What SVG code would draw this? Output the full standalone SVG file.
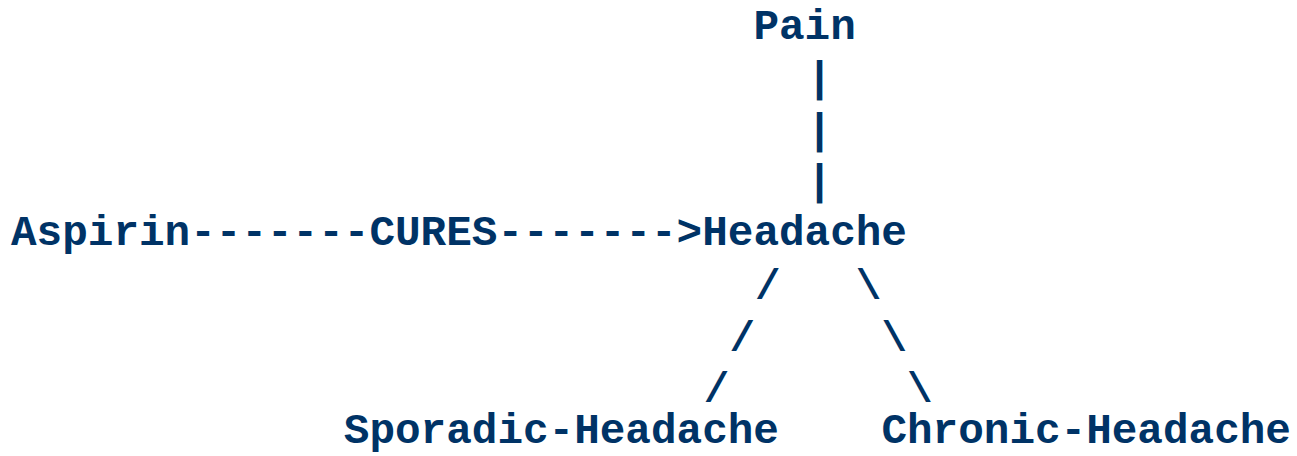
<svg xmlns="http://www.w3.org/2000/svg" width="1297" height="456" viewBox="0 0 1297 456">
<style>
text{font-family:"Liberation Mono","Courier New",monospace;font-weight:bold;font-size:42.67px;fill:#003366;white-space:pre}
</style>
<rect width="1297" height="456" fill="#ffffff"/>
<g id="connectors">
<text x="819.5" y="91" text-anchor="middle">|</text>
<text x="819.5" y="142.5" text-anchor="middle">|</text>
<text x="819.5" y="194" text-anchor="middle">|</text>
<text x="190.2" y="244.6" xml:space="preserve">-------</text>
<text x="497.4" y="244.6" xml:space="preserve">-------&gt;</text>
<text x="755" y="299">/</text>
<text x="729.4" y="350.5">/</text>
<text x="703.8" y="402">/</text>
<text x="855.8" y="299">\</text>
<text x="881.4" y="350.5">\</text>
<text x="907" y="402">\</text>
<text id="label-cures" x="369.4" y="244.6">CURES</text>
</g>
<g id="node-pain"><text x="753.4" y="39">Pain</text></g>
<g id="node-aspirin"><text x="11" y="244.6">Aspirin</text></g>
<g id="node-headache"><text x="702.2" y="244.6">Headache</text></g>
<g id="node-sporadic"><text x="343.8" y="443">Sporadic-Headache</text></g>
<g id="node-chronic"><text x="881.4" y="443">Chronic-Headache</text></g>
</svg>
